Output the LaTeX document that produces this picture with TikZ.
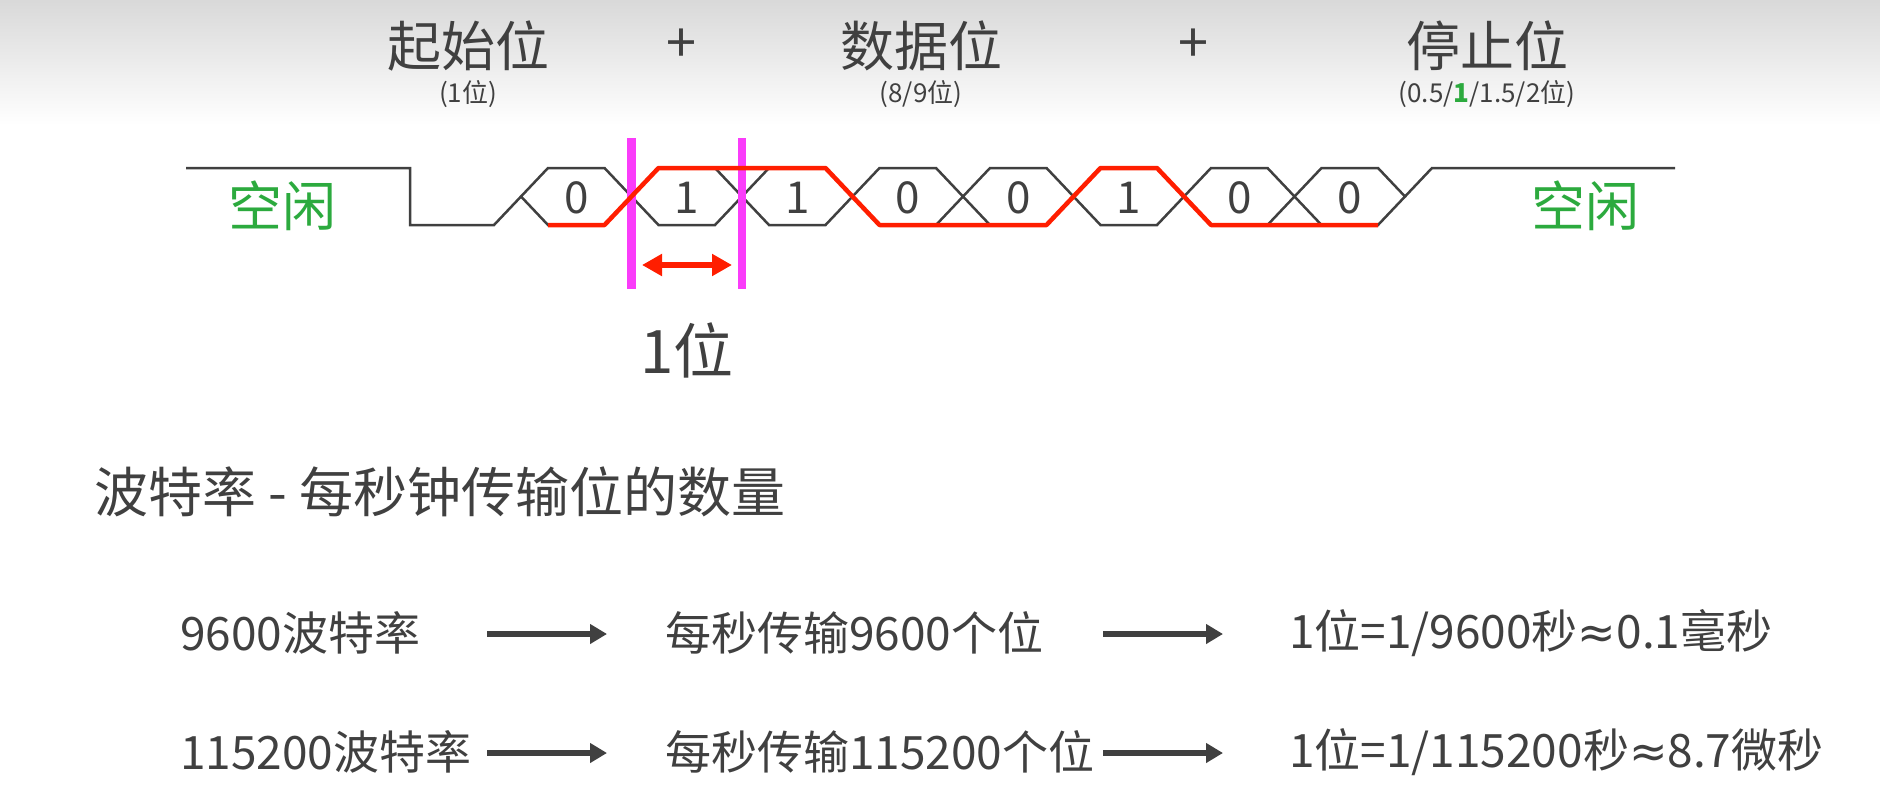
\documentclass[tikz,border=0pt]{standalone}
\usepackage{fontspec}
\setmainfont{Noto Sans CJK SC}
\newfontfamily\symfont{DejaVu Sans}
\usetikzlibrary{arrows.meta,positioning}
\definecolor{txtgray}{RGB}{64,64,64}
\definecolor{idlegreen}{RGB}{44,170,62}
\definecolor{sigred}{RGB}{255,30,0}
\definecolor{markpink}{RGB}{250,60,250}
\tikzset{
  headline/.style={text=txtgray, font=\fontsize{54}{60}\selectfont, inner sep=0pt},
  subline/.style={text=txtgray, font=\fontsize{26}{30}\selectfont, inner sep=0pt},
  idletext/.style={text=idlegreen, font=\fontsize{54}{60}\selectfont, inner sep=0pt},
  bitlabel/.style={text=txtgray, font=\fontsize{44}{48}\selectfont, inner sep=0pt},
  rowtext/.style={text=txtgray, font=\fontsize{46}{50}\selectfont, inner sep=0pt, anchor=west},
  wire/.style={draw=txtgray, line width=2.5pt, line join=miter},
  flowarrow/.style={draw=txtgray, line width=6pt, -{Triangle[length=17pt,width=19pt]}},
}
\newcommand{\approxsym}{{\symfont ≈}}

\begin{document}
\begin{tikzpicture}[x=1pt,y=-1pt]
  \useasboundingbox (0,0) rectangle (1880,795);
  \shade[top color=black!15, bottom color=white] (0,0) rectangle (1880,125);

  % frame headings
  \node[headline] (hStart) at (468,46) {起始位};
  \node[headline] (plusA) at (681,46) {+};
  \node[headline] (hData) at (921,46) {数据位};
  \node[headline] (plusB) at (1193,46) {+};
  \node[headline] (hStop) at (1487,46) {停止位};
  \node[subline] (sStart) at (468,94) {(1位)};
  \node[subline] (sData) at (921,94) {(8/9位)};
  \node[subline] (sStop) at (1487,94) {(0.5/{\color{idlegreen}\bfseries 1}/1.5/2位)};

  % waveform
  \node[idletext] (idleL) at (282,206) {空闲};
  \node[idletext] (idleR) at (1585,206) {空闲};
  \draw[wire] (186,168) -- (410,168) -- (410,225) -- (494,225) -- (521,196.5);
  \foreach \b [count=\n from 0] in {0,1,1,0,0,1,0,0} {
    \pgfmathsetmacro{\xl}{521+110.5*\n}
    \pgfmathsetmacro{\xr}{\xl+110.5}
    \draw[wire] (\xl,196.5) -- (\xl+27,168) -- (\xr-27,168) -- (\xr,196.5)
      -- (\xr-27,225) -- (\xl+27,225) -- cycle;
    \node[bitlabel] (bit\n) at ({(\xl+\xr)/2},198) {\b};
  }
  \draw[wire] (1405,196.5) -- (1432,168) -- (1675,168);

  \draw[markpink, line width=8.5pt] (631.5,138) -- (631.5,289);
  \draw[markpink, line width=8.5pt] (742,138) -- (742,289);

  \draw[sigred, line width=4.5pt, line join=round] (548,225) -- (604.5,225) -- (658.5,168)
    -- (825.5,168) -- (879.5,225) -- (1046.5,225) -- (1100.5,168) -- (1157,168)
    -- (1211,225) -- (1378,225);

  \coordinate (wL) at (642,265);
  \coordinate (wR) at (732,265);
  \draw[sigred, line width=6pt, {Triangle[length=20pt,width=21pt]}-{Triangle[length=20pt,width=21pt]}] (wL) -- (wR);
  \node[text=txtgray, font=\fontsize{60}{66}\selectfont, inner sep=0pt] (oneBit) at (687,350) {1位};

  % baud rate
  \node[headline, anchor=west] (baud) at (94,492) {波特率 - 每秒钟传输位的数量};

  \node[rowtext] (r1a) at (180,633) {9600波特率};
  \node[rowtext] (r1b) at (665,633) {每秒传输9600个位};
  \node[rowtext] (r1c) at (1289,633) {1位=1/9600秒\approxsym0.1毫秒};
  \node[rowtext] (r2a) at (180,752) {115200波特率};
  \node[rowtext] (r2b) at (665,752) {每秒传输115200个位};
  \node[rowtext] (r2c) at (1289,752) {1位=1/115200秒\approxsym8.7微秒};

  \coordinate (r1s1) at (487,634);
  \coordinate (r1e1) at (607,634);
  \coordinate (r1s2) at (1103,634);
  \coordinate (r1e2) at (1223,634);
  \coordinate (r2s1) at (487,753);
  \coordinate (r2e1) at (607,753);
  \coordinate (r2s2) at (1103,753);
  \coordinate (r2e2) at (1223,753);
  \draw[flowarrow] (r1s1) -- (r1e1);
  \draw[flowarrow] (r1s2) -- (r1e2);
  \draw[flowarrow] (r2s1) -- (r2e1);
  \draw[flowarrow] (r2s2) -- (r2e2);
\end{tikzpicture}
\end{document}
